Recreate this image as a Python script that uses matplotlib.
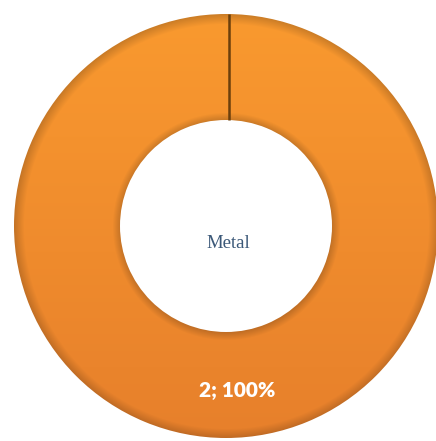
import numpy as np
import matplotlib
matplotlib.use("Agg")
import matplotlib.pyplot as plt

# chart data
labels = ["Metal"]
values = [2]

W, H = 436, 441
fig = plt.figure(figsize=(W / 100, H / 100), dpi=100)
ax = fig.add_axes([0, 0, 1, 1])

cx, cy = 226, H - 226
r_out, r_in = 212, 106

wedges, _ = ax.pie(values, radius=r_out, center=(cx, cy), startangle=90,
                   counterclock=False, frame=True,
                   wedgeprops=dict(width=r_out - r_in, facecolor="none",
                                   edgecolor="none"))
ax.set_xlim(0, W)
ax.set_ylim(0, H)
ax.set_aspect("equal")
ax.axis("off")

# shaded orange fill clipped to the ring
yy, xx = np.mgrid[H:0:-1, 0:W]
rr = np.hypot(xx - cx, yy - cy)
t = (H - yy) / H  # 0 at top, 1 at bottom
top = np.array([0.980, 0.605, 0.185])
bot = np.array([0.905, 0.500, 0.170])
img = top[None, None, :] * (1 - t[..., None]) + bot[None, None, :] * t[..., None]
# bevel: darken near outer and inner edges
d_out = np.clip((r_out - rr) / 10, 0, 1)
d_in = np.clip((rr - r_in) / 8, 0, 1)
shade = 0.82 + 0.18 * np.minimum(d_out, d_in)
img = np.clip(img * shade[..., None], 0, 1)
for w in wedges:
    im = ax.imshow(img, extent=(0, W, 0, H), origin="upper", zorder=1)
    im.set_clip_path(w)
    # separator line at the wedge start
    th = np.deg2rad(w.theta1)
    r0 = w.r - w.width
    ax.plot([cx + r0 * np.cos(th) + 3, cx + w.r * np.cos(th) + 3],
            [cy + r0 * np.sin(th), cy + w.r * np.sin(th)],
            color="#6b3f0c", lw=1.8, zorder=3, solid_capstyle="butt")

ax.set_xlim(0, W)
ax.set_ylim(0, H)

# center label and data label
ax.text(cx + 2, cy - 17, labels[0], ha="center", va="center",
        fontsize=13.5, family="Liberation Serif", color="#3b5878", zorder=4)
total = sum(values)
for v in values:
    ax.text(cx + 11, cy - 164, f"{v}; {v / total * 100:.0f}%", ha="center",
            va="center", fontsize=15, fontweight="heavy", family="Lato",
            color="white", zorder=4)

fig.savefig("out.png", dpi=100)
